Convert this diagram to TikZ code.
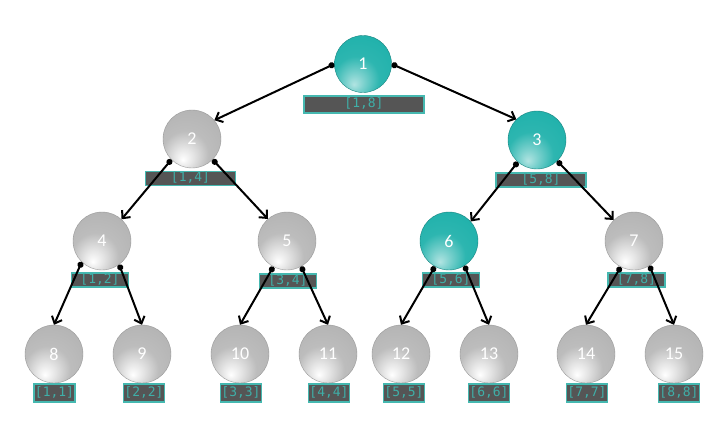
\documentclass[tikz,border=0pt]{standalone}
\usepackage{fontspec}
\setmainfont{Carlito}
\newfontfamily\monofnt{DejaVu Sans Mono}
\usetikzlibrary{arrows.meta}
\definecolor{tealc}{HTML}{22B2AC}
\definecolor{tealborder}{HTML}{45B8B0}
\definecolor{labelbg}{HTML}{555555}
\definecolor{labeltext}{HTML}{3FAFA8}
\pgfdeclareradialshading{grayball}{\pgfpoint{-8bp}{-18bp}}{%
  color(0bp)=(white); color(8bp)=(white!80!gray); color(20bp)=(gray!52);
  color(34bp)=(gray!58); color(50bp)=(gray!72); color(75bp)=(gray!85)}
\pgfdeclareradialshading{tealball}{\pgfpoint{-8bp}{-18bp}}{%
  color(0bp)=(tealc!35!white); color(8bp)=(tealc!60!white); color(20bp)=(tealc!95!white);
  color(34bp)=(tealc); color(50bp)=(tealc!85!black); color(75bp)=(tealc!70!black)}
\tikzset{
  ballg/.style={circle, minimum size=58pt, inner sep=0pt, shading=grayball,
    draw=gray!80, line width=0.4pt, text=white, font=\fontsize{18}{18}\selectfont},
  ballt/.style={circle, minimum size=58pt, inner sep=0pt, shading=tealball,
    draw=tealc!75!black, line width=0.4pt, text=white, font=\fontsize{18}{18}\selectfont},
  rng/.style={rectangle, fill=labelbg, draw=tealborder, line width=1.3pt, inner sep=0pt,
    text=labeltext, font=\monofnt\fontsize{13}{13}\selectfont, text height=9pt, text depth=2.5pt},
  rng1/.style={rng, minimum width=120pt, minimum height=17pt},
  rng2/.style={rng, minimum width=90pt, minimum height=14pt},
  rng3/.style={rng, minimum width=57pt, minimum height=14pt},
  rng4/.style={rng, minimum width=41pt, minimum height=18pt},
  edge/.style={line width=2pt, {Circle[length=6pt]}-{Straight Barb[length=6pt,width=11pt]}}
}
\begin{document}
\begin{tikzpicture}[x=1pt,y=-1pt]
\useasboundingbox (0,0) rectangle (726,433);
% labels
\node[rng1] (l1) at (364,104.5) {[1,8]};
\node[rng2] (l2) at (190.5,178.5) {[1,4]};
\node[rng2] (l3) at (541,180) {[5,8]};
\node[rng3] (l4) at (100,280) {[1,2]};
\node[rng3] (l5) at (288,281) {[3,4]};
\node[rng3] (l6) at (451,280) {[5,6]};
\node[rng3] (l7) at (636.5,280) {[7,8]};
\node[rng4] (l8) at (54.5,393) {[1,1]};
\node[rng4] (l9) at (144,393) {[2,2]};
\node[rng4] (l10) at (241,393) {[3,3]};
\node[rng4] (l11) at (329,393) {[4,4]};
\node[rng4] (l12) at (404,393) {[5,5]};
\node[rng4] (l13) at (489,393) {[6,6]};
\node[rng4] (l14) at (587,393) {[7,7]};
\node[rng4] (l15) at (679,393) {[8,8]};
% nodes
\node[ballt, minimum size=57pt] (n1) at (363,64) {1};
\node[ballg] (n2) at (192,139) {2};
\node[ballt] (n3) at (537,140) {3};
\node[ballg] (n4) at (102,241) {4};
\node[ballg] (n5) at (287,241) {5};
\node[ballt] (n6) at (449,241) {6};
\node[ballg] (n7) at (634,241) {7};
\node[ballg] (n8) at (54,354) {8};
\node[ballg] (n9) at (142,354) {9};
\node[ballg] (n10) at (240,354) {10};
\node[ballg] (n11) at (328,354) {11};
\node[ballg] (n12) at (401,354) {12};
\node[ballg] (n13) at (489,354) {13};
\node[ballg] (n14) at (586,354) {14};
\node[ballg] (n15) at (674,354) {15};
% edges
\draw[edge] (n1.west) -- (n2.40);
\draw[edge] (n1.east) -- (n3.135);
\draw[edge] (n2.225) -- (n4.48);
\draw[edge] (n2.315) -- (n5.131);
\draw[edge] (n3.229) -- (n6.42);
\draw[edge] (n3.314) -- (n7.134);
\draw[edge] (n4.226) -- (n8.north);
\draw[edge] (n4.306) -- (n9.north);
\draw[edge] (n5.242) -- (n10.north);
\draw[edge] (n5.299) -- (n11.north);
\draw[edge] (n6.241) -- (n12.north);
\draw[edge] (n6.302) -- (n13.north);
\draw[edge] (n7.243) -- (n14.north);
\draw[edge] (n7.302) -- (n15.north);
\end{tikzpicture}
\end{document}
